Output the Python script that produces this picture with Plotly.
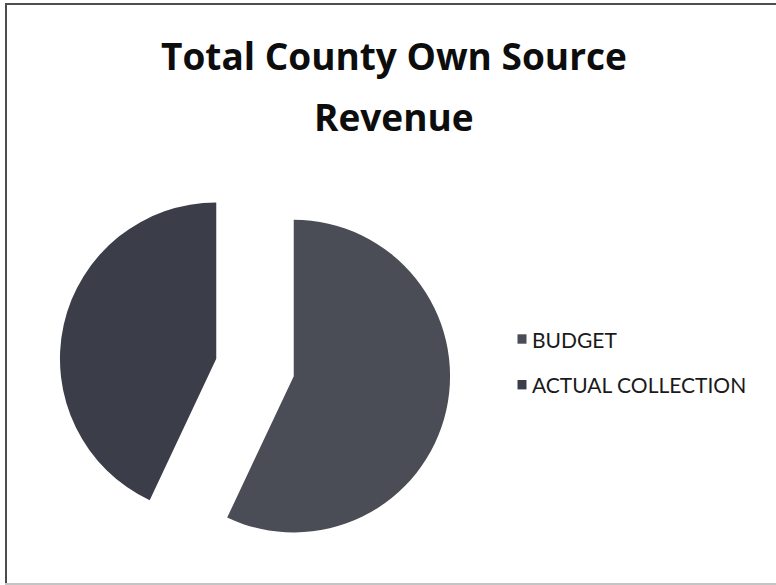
import plotly.graph_objects as go

# Own source revenue split (share of total, %)
labels = ["BUDGET", "ACTUAL COLLECTION"]
values = [57, 43]
colors = ["#4a4c56", "#3b3e49"]

title_lines = ["Total County Own Source", "Revenue"]

W, H = 776, 585


def px(x):
    return x / W


def py(y):
    return 1 - y / H


fig = go.Figure(
    go.Pie(
        labels=labels,
        values=values,
        sort=False,
        direction="clockwise",
        rotation=0,
        pull=[0.254, 0.254],
        marker=dict(colors=colors, line=dict(width=0)),
        textinfo="none",
        hoverinfo="label+percent",
        showlegend=False,
        domain=dict(x=[px(59), px(451)], y=[py(563.5), py(171.5)]),
    )
)

shapes = []
annotations = []

# chart frame
shapes.append(dict(type="line", xref="paper", yref="paper",
                   x0=px(6), x1=px(6), y0=py(3), y1=py(585),
                   line=dict(color="#4d4d4d", width=2)))
shapes.append(dict(type="line", xref="paper", yref="paper",
                   x0=px(5), x1=1.0, y0=py(4), y1=py(4),
                   line=dict(color="#4d4d4d", width=2)))
shapes.append(dict(type="line", xref="paper", yref="paper",
                   x0=px(5), x1=1.0, y0=py(584), y1=py(584),
                   line=dict(color="#c4c4c4", width=2)))

# title
title_font = dict(family="Open Sans", size=37, color="#0d0d0d")
for text, yc in zip(title_lines, [55.5, 116.5]):
    annotations.append(dict(text="<b>%s</b>" % text, xref="paper", yref="paper",
                            x=px(393.5), y=py(yc), xanchor="center", yanchor="middle",
                            showarrow=False, font=title_font))

# legend
legend_font = dict(family="Lato", size=21, color="#1a1a1a")
for lab, col, yc in zip(labels, colors, [339.0, 384.7]):
    shapes.append(dict(type="rect", xref="paper", yref="paper",
                       x0=px(517.5), x1=px(526.5), y0=py(yc + 4.7), y1=py(yc - 4.7),
                       fillcolor=col, line=dict(width=0)))
    annotations.append(dict(text=lab, xref="paper", yref="paper",
                            x=px(530), y=py(yc), xanchor="left", yanchor="middle",
                            showarrow=False, font=legend_font))

fig.update_layout(
    width=W,
    height=H,
    margin=dict(l=0, r=0, t=0, b=0),
    paper_bgcolor="white",
    plot_bgcolor="white",
    shapes=shapes,
    annotations=annotations,
)

fig.write_html("out.html")
